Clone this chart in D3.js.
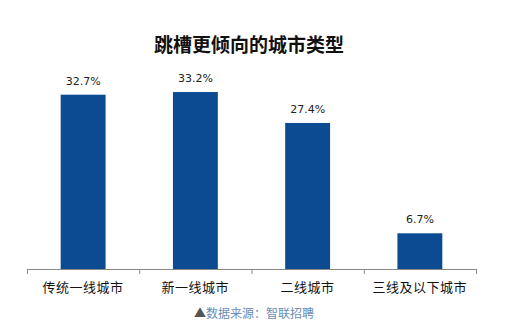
<!DOCTYPE html>
<html><head><meta charset="utf-8">
<script src="https://cdn.jsdelivr.net/npm/d3@7"></script>
<style>body{margin:0;background:#fff;}svg{display:block;}</style>
</head><body>
<svg id="c" width="510" height="331"></svg>
<script>
const categories = ["传统一线城市", "新一线城市", "二线城市", "三线及以下城市"];
const values = [32.7, 33.2, 27.4, 6.7];
const valueLabels = ["32.7%", "33.2%", "27.4%", "6.7%"];
const title = "跳槽更倾向的城市类型";
const sourceMark = "▲";
const source = "数据来源：智联招聘";

const svg = d3.select("#c");
const font = "'Noto Sans CJK SC', 'Microsoft YaHei', sans-serif";
const x = d3.scaleBand().domain(categories).range([27, 476]).paddingInner(0.6).paddingOuter(0.3);
const y = d3.scaleLinear().domain([0, 40]).range([269, 269 - 213.2]);

svg.append("text").attr("x", 249).attr("y", 52).attr("text-anchor", "middle")
  .attr("font-family", font).attr("font-weight", "bold").attr("font-size", 19).attr("fill", "#111").text(title);

svg.selectAll("rect.bar").data(values).join("rect").attr("class", "bar")
  .attr("x", (d, i) => x(categories[i])).attr("width", x.bandwidth())
  .attr("y", d => y(d)).attr("height", d => y(0) - y(d)).attr("fill", "#0c4a92");

svg.selectAll("text.val").data(values).join("text").attr("class", "val")
  .attr("x", (d, i) => x(categories[i]) + x.bandwidth() / 2).attr("y", d => y(d) - 10)
  .attr("text-anchor", "middle").attr("font-family", "'DejaVu Sans', sans-serif").attr("font-size", 11).attr("fill", "#222")
  .text((d, i) => valueLabels[i]);

const xs = d3.scalePoint().domain(d3.range(categories.length + 1)).range([27, 476]);
const axis = svg.append("g");
axis.append("line").attr("x1", 27).attr("x2", 476).attr("y1", 269.5).attr("y2", 269.5).attr("stroke", "#888");
axis.selectAll("line.tick").data(xs.domain()).join("line").attr("class", "tick")
  .attr("x1", d => xs(d) + 0.5).attr("x2", d => xs(d) + 0.5).attr("y1", 269).attr("y2", 274).attr("stroke", "#888");
axis.selectAll("text.cat").data(categories).join("text").attr("class", "cat")
  .attr("x", d => x(d) + x.bandwidth() / 2).attr("y", 292).attr("text-anchor", "middle")
  .attr("font-family", font).attr("font-size", 13).attr("letter-spacing", 0.5).attr("fill", "#111").text(d => d);

const src = svg.append("text").attr("x", 254).attr("y", 318).attr("text-anchor", "middle")
  .attr("font-family", font).attr("font-size", 12);
src.append("tspan").attr("fill", "#555").text(sourceMark);
src.append("tspan").attr("fill", "#6a8db5").text(source);
</script>
</body></html>
